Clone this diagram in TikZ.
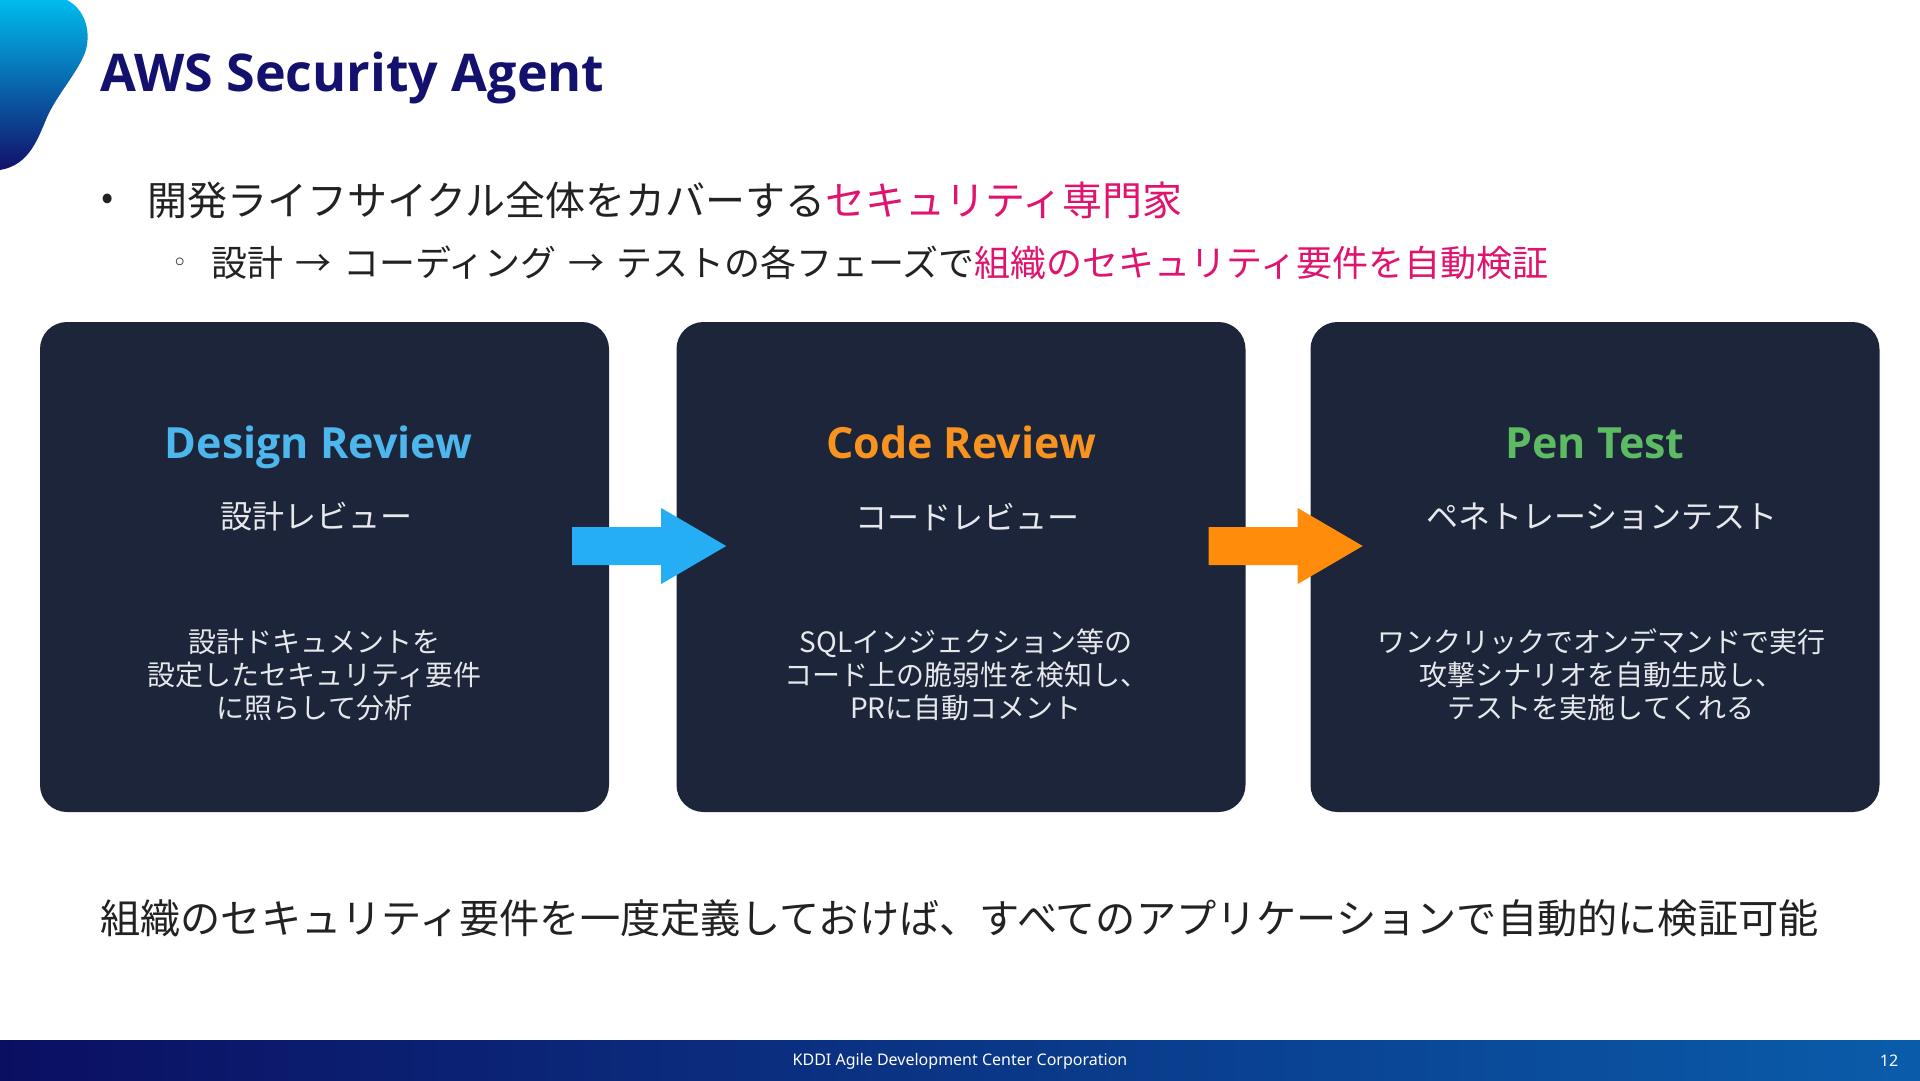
\documentclass[tikz,border=0pt]{standalone}
\usepackage{fontspec}
\setmainfont{Noto Sans CJK JP}
\newfontfamily\latfont{Open Sans}
\newfontfamily\footfont{Noto Sans}
\newfontfamily\symfont{DejaVu Sans}
\usetikzlibrary{calc}
\definecolor{boxbg}{HTML}{1C2539}
\definecolor{titlenavy}{HTML}{14106E}
\definecolor{emph}{HTML}{E0146E}
\definecolor{bodytext}{HTML}{222222}
\definecolor{desctext}{HTML}{E6E8EC}
\definecolor{dblue}{HTML}{4DB6EC}
\definecolor{corange}{HTML}{F7931E}
\definecolor{pgreen}{HTML}{5DBB63}
\definecolor{arrowblue}{HTML}{26AEF4}
\definecolor{arroworange}{HTML}{FF8C0A}
\definecolor{footleft}{HTML}{0B0F62}
\definecolor{footright}{HTML}{0A5CAA}
\definecolor{blobtop}{HTML}{00BBEE}
\definecolor{blobbot}{HTML}{12106A}
\tikzset{
  card/.style={fill=boxbg, rounded corners=27pt, minimum width=569pt, minimum height=490pt, inner sep=0pt, draw=none},
  cardtitle/.style={font=\latfont\bfseries\fontsize{43}{50}\selectfont, inner sep=0pt, anchor=base},
  cardsub/.style={font=\fontsize{32}{38}\selectfont, text=desctext, inner sep=0pt, anchor=center},
  carddesc/.style={font=\fontsize{28}{33}\selectfont, text=desctext, inner sep=0pt, anchor=center, align=center},
  bodyline/.style={text=bodytext, inner sep=0pt, anchor=west}
}
\newcommand{\arrgap}{\hspace{12pt}}
\begin{document}
\begin{tikzpicture}[x=1pt,y=-1pt]
\useasboundingbox (0,0) rectangle (1920,1080);
\fill[white] (0,0) rectangle (1920,1080);
% corner blob
\shade[top color=blobtop, bottom color=blobbot]
  (0,0) -- (67,0) .. controls (82,8) and (90,25) .. (87,45)
  .. controls (84,65) and (60,90) .. (48,115)
  .. controls (38,138) and (30,165) .. (0,170) -- cycle;
% title
\node[anchor=base west, inner sep=0pt, text=titlenavy, font=\latfont\bfseries\fontsize{52}{60}\selectfont] (title) at (100,91) {AWS Security Agent};
% bullets
\node[bodyline, font=\fontsize{36}{40}\selectfont] (dot1) at (101,202) {•};
\node[bodyline, font=\fontsize{40}{46}\selectfont] (line1) at (147,200) {開発ライフサイクル全体をカバーする{\color{emph}セキュリティ専門家}};
\node[bodyline, font=\symfont\fontsize{26}{30}\selectfont] (dot2) at (172,265) {◦};
\node[bodyline, font=\fontsize{36}{42}\selectfont] (line2) at (211,263) {設計\arrgap→\arrgap コーディング\arrgap→\arrgap テストの各フェーズで{\color{emph}組織のセキュリティ要件を自動検証}};
% cards
\node[card] (b1) at (324.5,567) {};
\node[card] (b2) at (961,567) {};
\node[card] (b3) at (1595,567) {};
% arrows
\fill[arrowblue] ($(b1.east)+(-37,-40)$) -- ++(89,0) -- ++(0,-19) -- ++(65,38) -- ++(-65,38) -- ++(0,-19) -- ++(-89,0) -- cycle;
\fill[arroworange] ($(b2.east)+(-37,-40)$) -- ++(89,0) -- ++(0,-19) -- ++(65,38) -- ++(-65,38) -- ++(0,-19) -- ++(-89,0) -- cycle;
% card texts
\node[cardtitle, text=dblue] (t1) at ($(b1.north)+(-6,137)$) {Design Review};
\node[cardsub] (s1) at ($(b1.north)+(-8,195)$) {設計レビュー};
\node[carddesc] (d1) at ($(b1.north)+(-10,353)$) {設計ドキュメントを\\設定したセキュリティ要件\\に照らして分析};
\node[cardtitle, text=corange] (t2) at ($(b2.north)+(0,137)$) {Code Review};
\node[cardsub] (s2) at ($(b2.north)+(6,195)$) {コードレビュー};
\node[carddesc] (d2) at ($(b2.north)+(5,353)$) {SQLインジェクション等の\\コード上の脆弱性を検知し、\\PRに自動コメント};
\node[cardtitle, text=pgreen] (t3) at ($(b3.north)+(0,137)$) {Pen Test};
\node[cardsub] (s3) at ($(b3.north)+(7,195)$) {ペネトレーションテスト};
\node[carddesc] (d3) at ($(b3.north)+(6,353)$) {ワンクリックでオンデマンドで実行\\攻撃シナリオを自動生成し、\\テストを実施してくれる};
% bottom statement
\node[bodyline, font=\fontsize{40.2}{46}\selectfont] (summary) at (100,918) {組織のセキュリティ要件を一度定義しておけば、すべてのアプリケーションで自動的に検証可能};
% footer
\shade[left color=footleft, right color=footright] (0,1040) rectangle (1920,1080);
\node[inner sep=0pt, text=white, font=\footfont\fontsize{16}{19}\selectfont] (foot) at (960,1061) {KDDI Agile Development Center Corporation};
\node[inner sep=0pt, text=white, font=\footfont\fontsize{16}{19}\selectfont] (page) at (1889,1061) {12};
\end{tikzpicture}
\end{document}
